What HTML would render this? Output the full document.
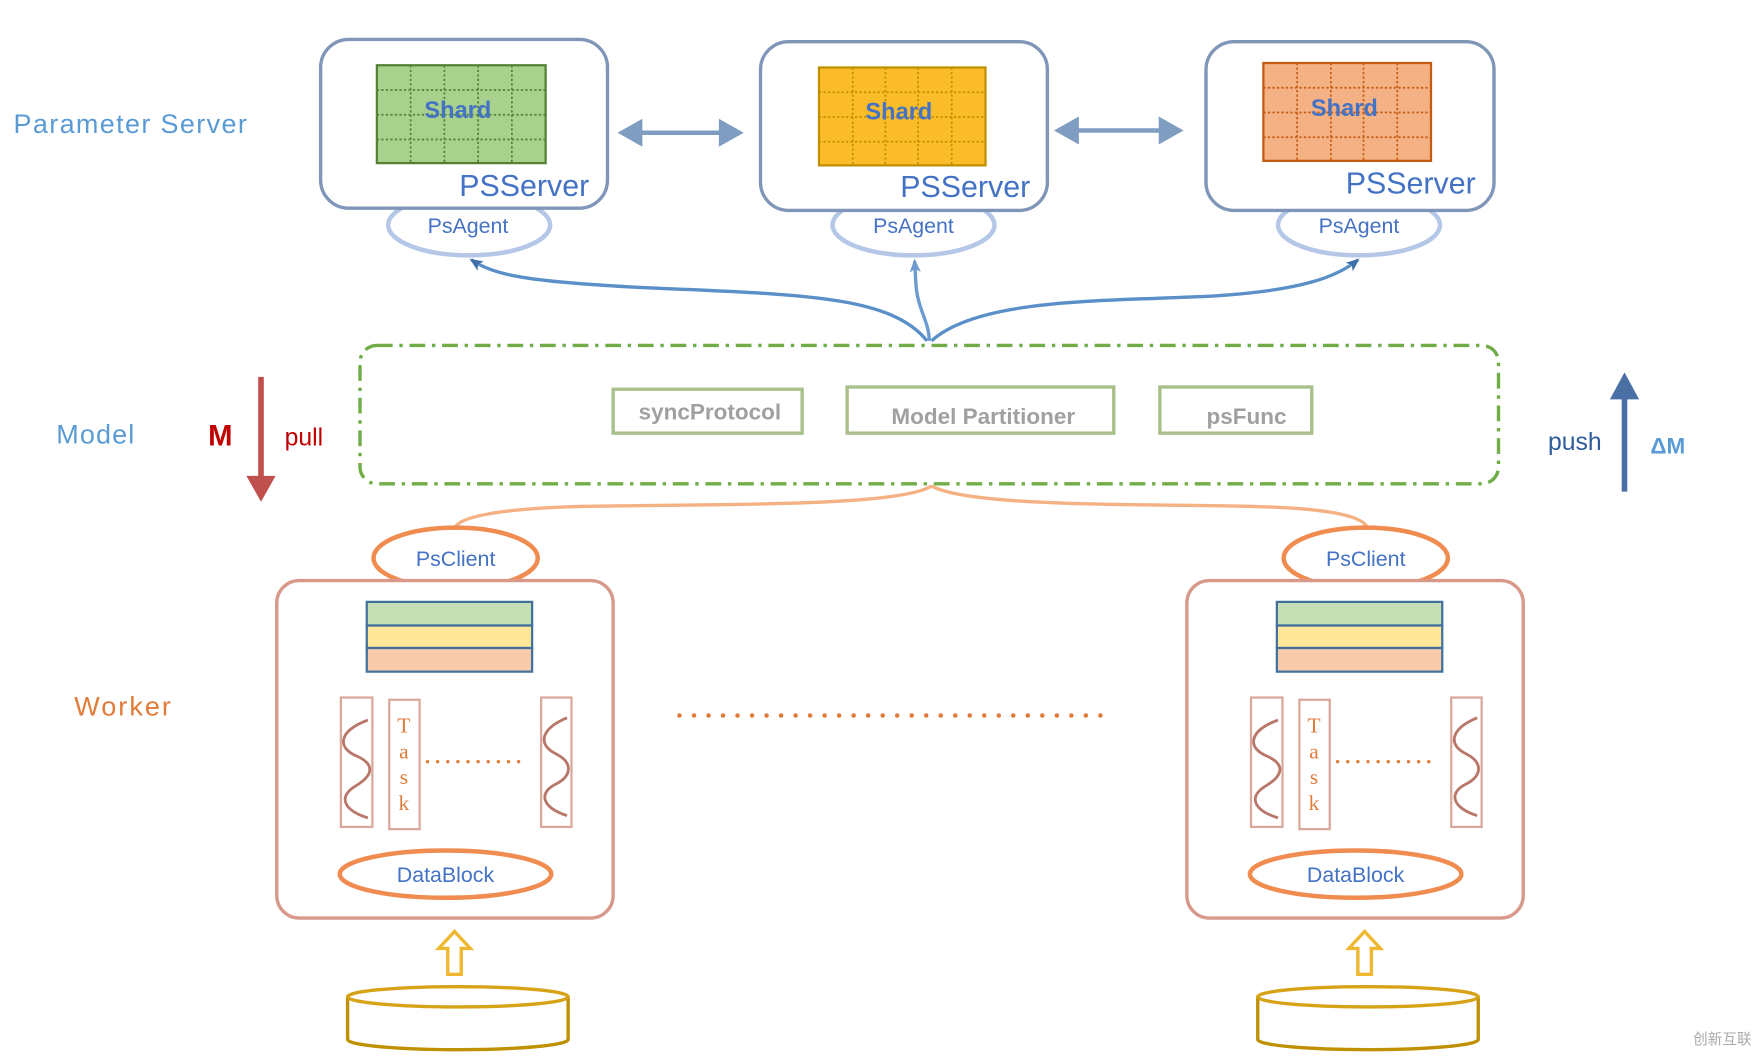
<!DOCTYPE html>
<html><head><meta charset="utf-8"><style>html,body{margin:0;padding:0;background:#fff}svg{display:block}</style></head><body>
<svg width="1764" height="1060" viewBox="0 0 1568 942.2" preserveAspectRatio="none" xmlns="http://www.w3.org/2000/svg" font-family="Liberation Sans, sans-serif">
<defs>
<marker id="ab" markerUnits="userSpaceOnUse" markerWidth="12" markerHeight="12" refX="10" refY="6" orient="auto"><path d="M0,1 L12,6 L0,11 L3,6 z" fill="#3f6fa8"/></marker>
<marker id="ab2" markerUnits="userSpaceOnUse" markerWidth="12" markerHeight="12" refX="10" refY="6" orient="auto"><path d="M0,1 L12,6 L0,11 L3,6 z" fill="#6b9bd1"/></marker>
</defs>
<!-- left labels -->
<text x="12" y="118" font-size="24" fill="#5b9bd5" letter-spacing="1.2">Parameter Server</text>
<text x="50" y="394" font-size="24" fill="#5b9bd5" letter-spacing="1">Model</text>
<text x="66" y="636" font-size="24" fill="#e07b39" letter-spacing="1.8">Worker</text>
<text x="185" y="396" font-size="26" font-weight="bold" fill="#c00000">M</text>
<text x="253" y="396" font-size="22" fill="#c00000">pull</text>
<line x1="232" y1="335" x2="232" y2="425" stroke="#c0504d" stroke-width="5"/>
<path d="M219,423 L245,423 L232,446 z" fill="#c0504d"/>
<text x="1376" y="400" font-size="22" fill="#2e5c9a">push</text>
<line x1="1444" y1="437" x2="1444" y2="352" stroke="#4a6fa5" stroke-width="5"/>
<path d="M1431,355 L1457,355 L1444,331 z" fill="#4a6fa5"/>
<text x="1467" y="403" font-size="20" font-weight="bold" fill="#5b9bd5">ΔM</text>

<g fill="none" stroke="#b4c7e7" stroke-width="4">
<ellipse cx="417" cy="200" rx="72" ry="27"/>
<ellipse cx="812" cy="200" rx="72" ry="27"/>
<ellipse cx="1208" cy="200" rx="72" ry="27"/>
</g>
<g fill="#fff" stroke="#8096b9" stroke-width="3">
<rect x="285" y="35" width="255" height="150" rx="25"/>
<rect x="676" y="37" width="255" height="150" rx="25"/>
<rect x="1072" y="37" width="256" height="150" rx="25"/>
</g>
<g>
<rect x="335" y="58" width="150" height="87" fill="#a9d18e" stroke="#548235" stroke-width="2"/>
<g stroke="#548235" stroke-width="1.5" stroke-dasharray="2,2"><line x1="365" y1="58" x2="365" y2="145"/><line x1="395" y1="58" x2="395" y2="145"/><line x1="425" y1="58" x2="425" y2="145"/><line x1="455" y1="58" x2="455" y2="145"/><line x1="335" y1="80" x2="485" y2="80"/><line x1="335" y1="102" x2="485" y2="102"/><line x1="335" y1="124" x2="485" y2="124"/></g>
<rect x="728" y="60" width="148" height="87" fill="#fbbc2a" stroke="#bf8f00" stroke-width="2"/>
<g stroke="#bf8f00" stroke-width="1.5" stroke-dasharray="2,2"><line x1="758" y1="60" x2="758" y2="147"/><line x1="787" y1="60" x2="787" y2="147"/><line x1="816" y1="60" x2="816" y2="147"/><line x1="846" y1="60" x2="846" y2="147"/><line x1="728" y1="82" x2="876" y2="82"/><line x1="728" y1="104" x2="876" y2="104"/><line x1="728" y1="126" x2="876" y2="126"/></g>
<rect x="1123" y="56" width="149" height="87" fill="#f4b183" stroke="#c55a11" stroke-width="2"/>
<g stroke="#c55a11" stroke-width="1.5" stroke-dasharray="2,2"><line x1="1153" y1="56" x2="1153" y2="143"/><line x1="1183" y1="56" x2="1183" y2="143"/><line x1="1212" y1="56" x2="1212" y2="143"/><line x1="1242" y1="56" x2="1242" y2="143"/><line x1="1123" y1="78" x2="1272" y2="78"/><line x1="1123" y1="100" x2="1272" y2="100"/><line x1="1123" y1="122" x2="1272" y2="122"/></g>
</g>
<g font-size="21" font-weight="bold" fill="#4472c4" text-anchor="middle">
<text x="407" y="105">Shard</text><text x="799" y="106">Shard</text><text x="1195" y="103">Shard</text>
</g>
<g font-size="27" fill="#4472c4" text-anchor="middle">
<text x="466" y="174">PSServer</text><text x="858" y="175">PSServer</text><text x="1254" y="172">PSServer</text>
</g>
<g font-size="19" fill="#4472c4" text-anchor="middle">
<text x="416" y="207">PsAgent</text><text x="812" y="207">PsAgent</text><text x="1208" y="207">PsAgent</text>
</g>
<g stroke="#7f9cc1" stroke-width="4" fill="#7f9cc1">
<line x1="565" y1="118" x2="645" y2="118"/><path d="M553,118 L569,109 L569,127 z"/><path d="M657,118 L641,109 L641,127 z"/>
<line x1="953" y1="116" x2="1036" y2="116"/><path d="M941,116 L957,107 L957,125 z"/><path d="M1048,116 L1032,107 L1032,125 z"/>
</g>
<g fill="none" stroke-width="3">
<path d="M824,303 C790,260 700,262 560,255 C470,250 440,245 419,231" stroke="#5b8fc7" marker-end="url(#ab)"/>
<path d="M826,303 C826,285 815,275 814,250 L813,232" stroke="#6b9bd1" marker-end="url(#ab2)"/>
<path d="M828,303 C870,265 980,268 1080,263 C1160,258 1190,245 1207,231" stroke="#5b8fc7" marker-end="url(#ab)"/>
</g>
<rect x="320" y="307" width="1012" height="123" rx="15" fill="none" stroke="#70ad47" stroke-width="3" stroke-dasharray="14,6,3,6"/>
<g fill="#fff" stroke="#a9c08a" stroke-width="3">
<rect x="545" y="346" width="168" height="39"/><rect x="753" y="344" width="237" height="41"/><rect x="1031" y="344" width="135" height="41"/>
</g>
<g font-size="20" font-weight="bold" fill="#a0a0a0" text-anchor="middle">
<text x="631" y="373">syncProtocol</text><text x="874" y="377">Model Partitioner</text><text x="1108" y="377">psFunc</text>
</g>
<g fill="none" stroke="#f4b183" stroke-width="3">
<path d="M828,432 C800,450 650,448 520,450 C440,452 410,460 405,468"/>
<path d="M828,432 C860,450 1000,448 1110,450 C1190,452 1210,460 1215,468"/>
</g>
<text x="1505" y="928" font-size="13" fill="#aaa">创新互联</text>

<g id="w">
<ellipse cx="405" cy="496" rx="73" ry="27" fill="none" stroke="#f08c4f" stroke-width="4"/>
<rect x="246" y="516" width="299" height="300" rx="20" fill="#fff" stroke="#d9998a" stroke-width="3"/>
<text x="405" y="503" font-size="19" fill="#4472c4" text-anchor="middle">PsClient</text>
<rect x="326" y="535" width="147" height="21" fill="#c5e0b4" stroke="#41719c" stroke-width="2"/>
<rect x="326" y="556" width="147" height="20" fill="#ffe699" stroke="#41719c" stroke-width="2"/>
<rect x="326" y="576" width="147" height="21" fill="#f8cbad" stroke="#41719c" stroke-width="2"/>
<g fill="none" stroke="#d9a89a" stroke-width="2">
<rect x="303" y="620" width="28" height="115"/><rect x="346" y="622" width="27" height="115"/><rect x="481" y="620" width="27" height="115"/>
</g>
<g fill="none" stroke="#b9776a" stroke-width="2.5">
<path d="M327,640 C300,650 300,665 317,672 C335,680 330,690 317,698 C300,708 305,720 327,727"/>
<path d="M504,638 C480,648 478,662 494,670 C510,678 508,690 494,697 C478,705 482,718 504,725"/>
</g>
<g font-family="Liberation Serif, serif" font-size="19" fill="#e07b39" text-anchor="middle">
<text x="359" y="651">T</text><text x="359" y="674">a</text><text x="359" y="697">s</text><text x="359" y="720">k</text>
</g>
<line x1="380" y1="677" x2="467" y2="677" stroke="#e07b39" stroke-width="3" stroke-linecap="round" stroke-dasharray="0,9"/>
<ellipse cx="396" cy="777" rx="94" ry="21" fill="none" stroke="#f08c4f" stroke-width="4"/>
<text x="396" y="784" font-size="19" fill="#4472c4" text-anchor="middle">DataBlock</text>
<path d="M398,866 L398,843 L390,843 L404,828 L418,843 L410,843 L410,866 z" fill="none" stroke="#f0b830" stroke-width="3"/>
<path d="M309,886 L309,924 A98,9 0 0 0 505,924 L505,886" fill="none" stroke="#bf9000" stroke-width="3"/>
<ellipse cx="407" cy="886" rx="98" ry="9" fill="none" stroke="#d6a318" stroke-width="3"/>
</g>
<use href="#w" transform="translate(809,0)"/>
<line x1="604" y1="636" x2="990" y2="636" stroke="#e07b39" stroke-width="4" stroke-linecap="round" stroke-dasharray="0,12.9"/>
</svg>
</body></html>
